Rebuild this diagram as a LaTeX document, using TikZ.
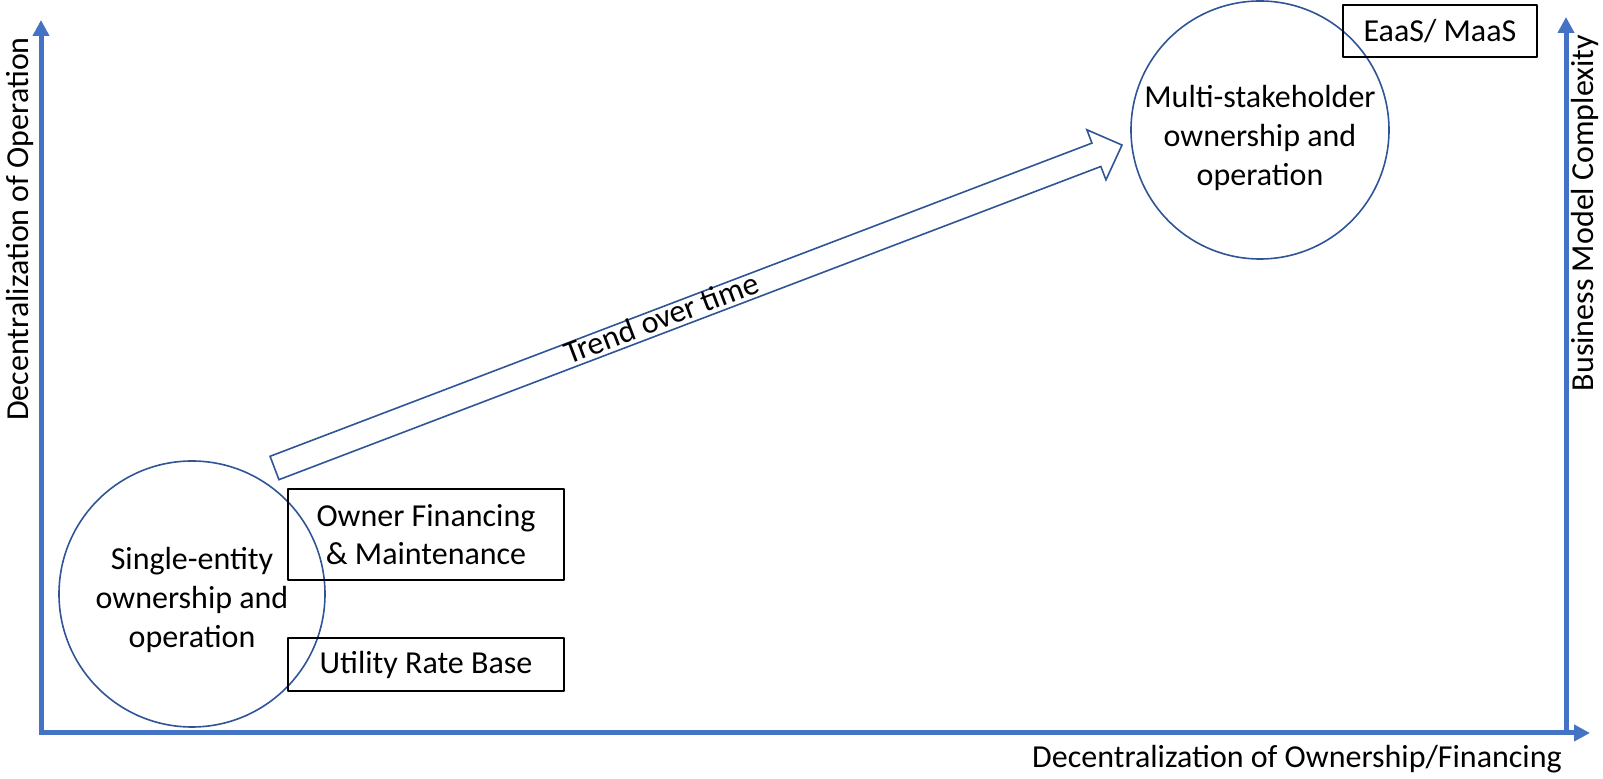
\documentclass[tikz,border=0pt]{standalone}
\usepackage{fontspec}
\setmainfont{Carlito}
\usetikzlibrary{arrows.meta}
\definecolor{axisblue}{HTML}{4472C4}
\definecolor{darkblue}{HTML}{2F5597}
\tikzset{
  axis/.style={line width=2.5pt, draw=axisblue, line join=miter},
  stage/.style={circle, draw=darkblue, line width=0.8pt, inner sep=0pt},
  model/.style={rectangle, draw=black, line width=0.75pt, inner sep=0pt, align=center},
}
\begin{document}
\begin{tikzpicture}[font=\fontsize{16}{19.3}\selectfont, line join=round, >={Triangle[length=8pt,width=8pt]}, x=0.5pt, y=-0.5pt]
	\def \xmin{41}
	\def \xmax{1590}
	\def \ymin{733}
	\def \ymax{20}
	\useasboundingbox (0,0) rectangle (1603,779);
	% axes
	\coordinate (O) at (\xmin,\ymin);
	\coordinate (xend) at (\xmax,\ymin);
	\coordinate (yend) at (\xmin,\ymax);
	\coordinate (zbase) at (1566,\ymin);
	\coordinate (zend) at (1566,17);
	\draw[axis,<->] (yend) -- (O) -- (xend);
	\draw[axis,->] (zbase) -- (zend);
	\node[anchor=base] (xlabel) at (1297,768) {Decentralization of Ownership/Financing};
	\node[anchor=base, rotate=90] (ylabel) at (28,229) {Decentralization of Operation};
	\node[anchor=base, rotate=90] (zlabel) at (1593,213) {Business Model Complexity};
	% stages
	\node[stage, minimum size=133pt] (single) at (192,594) {};
	\node[align=center] (singletext) at (192,600) {Single-entity\\ownership and\\operation};
	\node[stage, minimum size=129pt] (multi) at (1260,130) {};
	\node[align=center] (multitext) at (1260,138) {Multi-stakeholder\\ownership and\\operation};
	% business models
	\node[model, minimum width=138pt, minimum height=45.5pt] (owner) at (426,534.5) {Owner Financing\\\& Maintenance};
	\node[model, minimum width=138pt, minimum height=26.5pt] (rate) at (426,664.5) {Utility Rate Base};
	\node[model, minimum width=97pt, minimum height=26pt] (eaas) at (1440,31) {EaaS/ MaaS};
	% trend arrow
	\coordinate (tail) at (274.5,468);
	\begin{scope}[shift={(tail)}, rotate=20.86]
		\draw[darkblue, line width=0.8pt, line join=miter] (0,-12.5) -- (879.6,-12.5) -- (879.6,-26.8) -- (907,0) -- (879.6,26.8) -- (879.6,12.5) -- (0,12.5) -- cycle;
		\node[rotate=20.86] (trend) at (415,-2.5) {Trend over time};
	\end{scope}
\end{tikzpicture}
\end{document}
